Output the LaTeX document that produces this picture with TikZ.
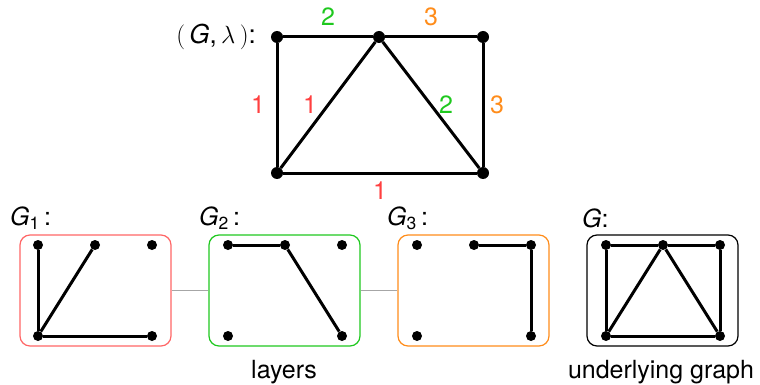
\documentclass[tikz,border=0pt]{standalone}
\usepackage{fontspec}
\setmainfont{TeX Gyre Heros}
\definecolor{lred}{RGB}{255,64,64}
\definecolor{lgreen}{RGB}{30,200,30}
\definecolor{lorange}{RGB}{255,140,26}
\tikzset{
  vtx/.style={circle,fill=black,inner sep=0pt,minimum size=12pt},
  svtx/.style={circle,fill=black,inner sep=0pt,minimum size=10pt},
  edge/.style={line width=3pt},
  layer/.style={draw,line width=1.2pt,rounded corners=10pt,minimum width=151pt,minimum height=111pt,inner sep=0pt},
  txt/.style={font=\fontsize{25}{30}\selectfont,inner sep=0pt}
}
\begin{document}
\begin{tikzpicture}[x=1pt,y=-1pt]
    \useasboundingbox (0,0) rectangle (760,385);

    % the labelled graph
    \node[txt,anchor=east,font=\fontsize{26}{30}\selectfont] (title) at (256,37) {$($\,\textit{G},\,$\lambda$\,$)$:};
    \node[vtx] (tl) at (277,37) {};
    \node[vtx] (tm) at (379,37) {};
    \node[vtx] (tr) at (483,37) {};
    \node[vtx] (bl) at (277,173) {};
    \node[vtx] (br) at (483,173) {};
    \draw[edge] (tl) -- node[txt,lgreen,yshift=20pt] {2} (tm);
    \draw[edge] (tm) -- node[txt,lorange,yshift=20pt] {3} (tr);
    \draw[edge] (tl) -- node[txt,lred,xshift=-19pt] {1} (bl);
    \draw[edge] (bl) -- node[txt,lred,xshift=-18pt] {1} (tm);
    \draw[edge] (tm) -- node[txt,lgreen,xshift=15pt] {2} (br);
    \draw[edge] (tr) -- node[txt,lorange,xshift=14pt] {3} (br);
    \draw[edge] (bl) -- node[txt,lred,yshift=-18pt] {1} (br);

    % layers and underlying graph
    \node[layer,draw=lred!80] (L1) at (95.5,290.5) {};
    \node[layer,draw=lgreen] (L2) at (284.5,290.5) {};
    \node[layer,draw=lorange] (L3) at (473.5,290.5) {};
    \node[layer,draw=black] (L4) at (662.5,290.5) {};
    \draw[gray!70,line width=1pt] (L1) -- (L2);
    \draw[gray!70,line width=1pt] (L2) -- (L3);

    \foreach \i/\dx in {1/0,2/190,3/379,4/568}
    {
        \node[svtx] (a\i) at (38+\dx,245) {};
        \node[svtx] (b\i) at (95+\dx,245) {};
        \node[svtx] (c\i) at (152+\dx,245) {};
        \node[svtx] (d\i) at (38+\dx,336) {};
        \node[svtx] (e\i) at (152+\dx,336) {};
    }

    \node[txt,anchor=west] (n1) at (10,218) {\textit{G}\textsubscript{1}\,:};
    \node[txt,anchor=west] (n2) at (199,218) {\textit{G}\textsubscript{2}\,:};
    \node[txt,anchor=west] (n3) at (387,218) {\textit{G}\textsubscript{3}\,:};
    \node[txt,anchor=west] (n4) at (582,218) {\textit{G}:};

    \draw[edge] (a1) -- (d1);
    \draw[edge] (b1) -- (d1);
    \draw[edge] (d1) -- (e1);

    \draw[edge] (a2) -- (b2);
    \draw[edge] (b2) -- (e2);

    \draw[edge] (b3) -- (c3);
    \draw[edge] (c3) -- (e3);

    \draw[edge] (a4) -- (b4) -- (c4) -- (e4) -- (d4) -- (a4);
    \draw[edge] (d4) -- (b4) -- (e4);

    \node[txt] (lay) at (284,372) {layers};
    \node[txt] (und) at (661,372) {underlying graph};
\end{tikzpicture}
\end{document}
